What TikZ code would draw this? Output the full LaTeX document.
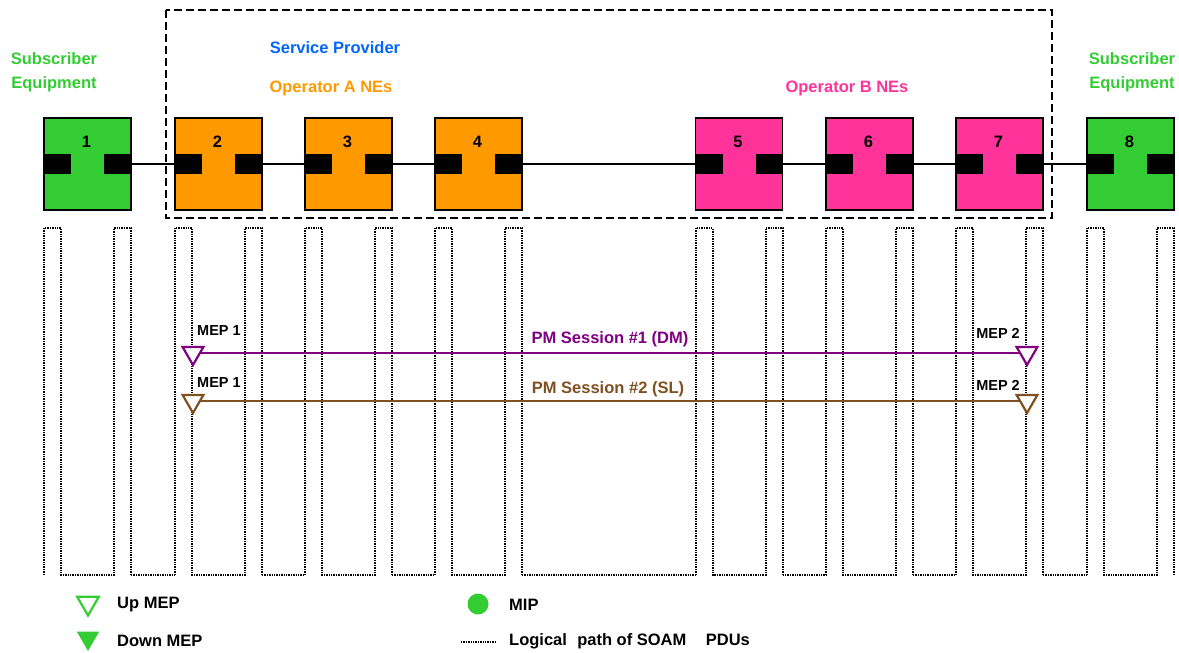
\documentclass[tikz,border=0pt]{standalone}
\usepackage{fontspec}
\setmainfont{Liberation Sans}
\usetikzlibrary{shapes.geometric,calc}
\definecolor{segreen}{HTML}{33CC33}
\definecolor{seorange}{HTML}{FF9900}
\definecolor{sepink}{HTML}{FF3399}
\definecolor{seblue}{HTML}{0066FF}
\definecolor{sepurple}{HTML}{800080}
\definecolor{sebrown}{RGB}{128,80,32}
\begin{document}
\begin{tikzpicture}[x=1pt,y=-1pt,
 box/.style={draw=black,line width=1.5pt,minimum width=87pt,minimum height=92pt,inner sep=0pt,outer sep=0pt},
 port/.style={fill=black,minimum width=27pt,minimum height=20pt,inner sep=0pt,outer sep=0pt},
 link/.style={line width=1.5pt},
 logical/.style={line width=2pt,dash pattern=on 1.4pt off 1pt},
 lbl/.style={font=\bfseries\fontsize{16.5}{24}\selectfont,inner sep=0pt},
 meplbl/.style={font=\bfseries\fontsize{14.5}{16}\selectfont,inner sep=0pt},
 mep/.style={regular polygon,regular polygon sides=3,shape border rotate=180,minimum size=24pt,inner sep=0pt,line width=2.2pt,fill=white,draw=#1},
 sp/.style={draw=black,line width=2pt,dash pattern=on 8pt off 4pt},
]
\useasboundingbox (0,0) rectangle (1179,653);

% service provider frame
\draw[sp] (166,10) rectangle (1052,218);

% titles
\node[lbl,text=segreen,align=center] (se1) at (54,72) {Subscriber\\Equipment};
\node[lbl,text=segreen,align=center] (se2) at (1132,72) {Subscriber\\Equipment};
\node[lbl,text=seblue] (spt) at (335,48) {Service Provider};
\node[lbl,text=seorange] (opa) at (331,88) {Operator A NEs};
\node[lbl,text=sepink] (opb) at (847,88) {Operator B NEs};

% boxes
\foreach \i/\x/\c in {1/87.5/segreen,2/218.5/seorange,3/348.5/seorange,4/478.5/seorange,5/739/sepink,6/869.5/sepink,7/999.5/sepink,8/1130.5/segreen}{
  \node[box,fill=\c] (b\i) at (\x,164) {};
  \node[port,anchor=west] (pl\i) at (b\i.west) {};
  \node[port,anchor=east] (pr\i) at (b\i.east) {};
  \node[lbl] (n\i) at ($(b\i.north)+(-1,24)$) {\i};
}
\foreach \i/\j in {1/2,2/3,3/4,4/5,5/6,6/7,7/8}
  \draw[link] (pr\i.east) -- (pl\j.west);

% logical path of SOAM PDUs
\coordinate (top) at (0,228);
\coordinate (bot) at (0,575);
\foreach \i in {1,...,8}
  \draw[logical] (b\i.west|-bot) -- (b\i.west|-top) -- ($(b\i.west|-top)+(17,0)$)
    -- ($(b\i.west|-bot)+(17,0)$) -- ($(b\i.east|-bot)+(-17,0)$)
    -- ($(b\i.east|-top)+(-17,0)$) -- (b\i.east|-top) -- (b\i.east|-bot);
\foreach \i/\j in {1/2,2/3,3/4,4/5,5/6,6/7,7/8}
  \draw[logical] (b\i.east|-bot) -- (b\j.west|-bot);

% PM sessions
\node[mep=sepurple] (m11) at (193,353) {};
\node[mep=sepurple] (m12) at (1027,353) {};
\draw[sepurple,line width=2pt] (m11) -- (m12);
\node[mep=sebrown] (m21) at (193,401) {};
\node[mep=sebrown] (m22) at (1027,401) {};
\draw[sebrown,line width=2pt] (m21) -- (m22);

\node[meplbl] (l11) at (219,331) {MEP 1};
\node[meplbl] (l21) at (219,383) {MEP 1};
\node[meplbl] (l12) at (998,333) {MEP 2};
\node[meplbl] (l22) at (998,385) {MEP 2};
\node[lbl,text=sepurple] (s1) at (610,339) {PM Session \#1 (DM)};
\node[lbl,text=sebrown] (s2) at (608,389) {PM Session \#2 (SL)};

% legend
\node[mep=segreen,minimum size=25pt] (lup) at (88,603) {};
\node[regular polygon,regular polygon sides=3,shape border rotate=180,minimum size=26pt,inner sep=0pt,fill=segreen] (ldown) at (88,638) {};
\node[lbl,anchor=west] (tup) at (117,605) {Up MEP};
\node[lbl,anchor=west] (tdown) at (117,641) {Down MEP};
\node[circle,fill=segreen,minimum size=21pt,inner sep=0pt] (mip) at (478,604) {};
\node[lbl,anchor=west] (tmip) at (509,605) {MIP};
\coordinate (la) at (461,642);
\coordinate (lb) at (495,642);
\draw[logical,line width=1.5pt] (la) -- (lb);
\node[lbl,anchor=west] (tlog) at (509,641) {Logical\hspace{0.35em} path of SOAM\hspace{0.9em} PDUs};
\end{tikzpicture}
\end{document}
